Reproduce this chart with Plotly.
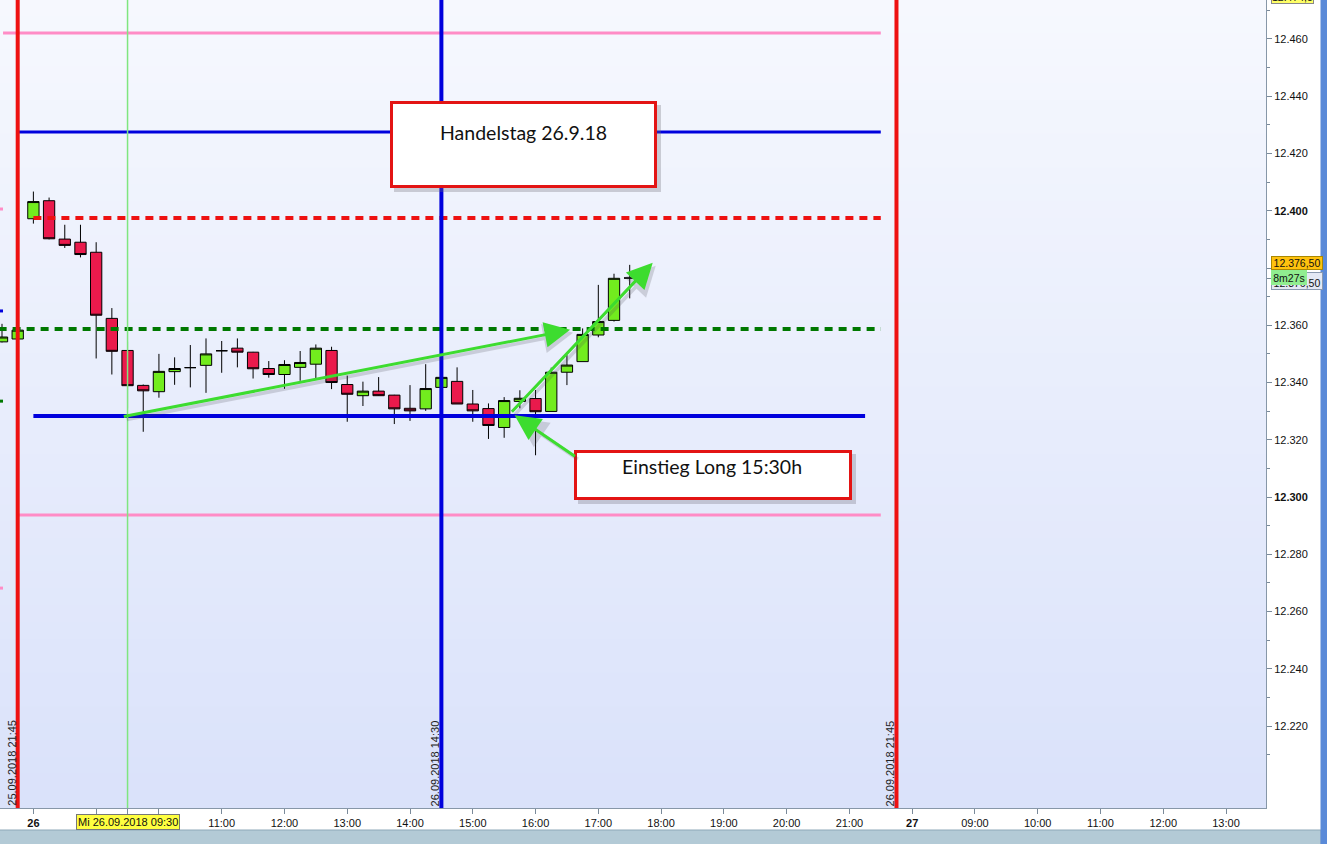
import pandas as pd
import plotly.graph_objects as go

# ---------------- data (15-min candles, DAX future) ----------------
times = [
    "2018-09-25 21:30", "2018-09-25 21:45",
    "2018-09-26 08:00", "2018-09-26 08:15", "2018-09-26 08:30", "2018-09-26 08:45",
    "2018-09-26 09:00", "2018-09-26 09:15", "2018-09-26 09:30", "2018-09-26 09:45",
    "2018-09-26 10:00", "2018-09-26 10:15", "2018-09-26 10:30", "2018-09-26 10:45",
    "2018-09-26 11:00", "2018-09-26 11:15", "2018-09-26 11:30", "2018-09-26 11:45",
    "2018-09-26 12:00", "2018-09-26 12:15", "2018-09-26 12:30", "2018-09-26 12:45",
    "2018-09-26 13:00", "2018-09-26 13:15", "2018-09-26 13:30", "2018-09-26 13:45",
    "2018-09-26 14:00", "2018-09-26 14:15", "2018-09-26 14:30", "2018-09-26 14:45",
    "2018-09-26 15:00", "2018-09-26 15:15", "2018-09-26 15:30", "2018-09-26 15:45",
    "2018-09-26 16:00", "2018-09-26 16:15", "2018-09-26 16:30", "2018-09-26 16:45",
    "2018-09-26 17:00", "2018-09-26 17:15", "2018-09-26 17:30",
]
opens = [
    12354.2, 12355.2,
    12397.2, 12403.5, 12390.1, 12389.0,
    12385.5, 12362.4, 12351.2, 12339.0,
    12336.8, 12343.8, 12345.2, 12346.0,
    12351.1, 12352.0, 12350.6, 12344.9,
    12342.8, 12345.3, 12346.4, 12351.2,
    12339.3, 12335.4, 12337.0, 12335.6,
    12331.0, 12330.8, 12338.3, 12340.4,
    12332.5, 12330.9, 12324.3, 12333.4,
    12334.4, 12329.9, 12343.6, 12347.3,
    12356.6, 12361.7, 12376.5,
]
highs = [
    12360.5, 12359.0,
    12406.7, 12404.6, 12395.1, 12395.1,
    12389.0, 12366.0, 12354.3, 12339.3,
    12350.0, 12348.8, 12353.1, 12355.4,
    12354.5, 12355.4, 12350.7, 12347.5,
    12347.8, 12351.0, 12353.3, 12352.5,
    12342.4, 12340.3, 12341.9, 12335.7,
    12339.1, 12346.4, 12342.5, 12345.3,
    12337.4, 12332.7, 12334.9, 12337.3,
    12337.4, 12345.2, 12349.6, 12358.9,
    12374.1, 12378.0, 12381.1,
]
lows = [
    12354.0, 12355.0,
    12395.5, 12390.0, 12387.0, 12383.7,
    12348.4, 12342.8, 12331.0, 12322.8,
    12334.7, 12339.2, 12338.3, 12336.4,
    12343.4, 12345.3, 12341.4, 12341.7,
    12337.8, 12340.6, 12341.1, 12337.7,
    12326.3, 12331.8, 12335.3, 12325.5,
    12326.6, 12330.1, 12337.5, 12332.5,
    12326.3, 12320.3, 12320.7, 12331.0,
    12314.6, 12329.9, 12339.1, 12347.3,
    12355.8, 12361.3, 12369.4,
]
closes = [
    12355.9, 12358.3,
    12403.2, 12390.2, 12387.9, 12384.7,
    12363.5, 12350.9, 12338.9, 12337.1,
    12343.9, 12344.9, 12345.2, 12350.0,
    12351.1, 12350.6, 12344.8, 12342.8,
    12346.3, 12347.0, 12352.0, 12340.0,
    12335.9, 12337.0, 12335.4, 12330.8,
    12330.1, 12337.9, 12341.8, 12332.5,
    12330.1, 12325.0, 12333.7, 12334.5,
    12329.8, 12343.6, 12346.1, 12356.8,
    12361.3, 12376.4, 12376.5,
]

# drawn horizontal price levels
level_prices = [12462.1, 12427.5, 12397.5, 12358.7, 12328.3, 12293.7]
level_starts = ["2018-09-25 21:31", "2018-09-25 21:45", "2018-09-26 08:00",
                "2018-09-25 21:00", "2018-09-26 08:00", "2018-09-25 21:45"]
level_ends = ["2018-09-26 21:30", "2018-09-26 21:30", "2018-09-26 21:30",
              "2018-09-26 21:30", "2018-09-26 21:15", "2018-09-26 21:30"]
level_colors = ["#ff8cc6", "#0000dd", "#ee1111", "#007800", "#0000dd", "#ff8cc6"]
level_widths = [3, 3, 4, 4, 4, 3]
level_dashes = ["solid", "solid", "8px,6px", "8px,6px", "solid", "solid"]

# small markers of previous-day levels at the left edge
edge_prices = [12400.6, 12365.0, 12333.5, 12268.2]
edge_colors = ["#ff8cc6", "#0000dd", "#007800", "#ff8cc6"]

# vertical time markers
vline_times = ["2018-09-25 21:45", "2018-09-26 09:30", "2018-09-26 14:30", "2018-09-26 21:45"]
vline_colors = ["#ee1111", "#7fe67f", "#0000dd", "#ee1111"]
vline_widths = [4, 1.5, 4, 4]
vline_labels = ["25.09.2018 21:45", "", "26.09.2018 14:30", "26.09.2018 21:45"]

# arrows: tip and tail
arrow_tips_t = ["2018-09-26 16:33", "2018-09-26 15:40", "2018-09-26 17:52"]
arrow_tips_p = [12358.4, 12328.6, 12381.8]
arrow_tails_t = ["2018-09-26 09:25", "2018-09-26 16:39", "2018-09-26 15:36"]
arrow_tails_p = [12328.0, 12313.9, 12329.3]

# axis ticks
x_tick_times = ["2018-09-26 08:00", "2018-09-26 09:00", "2018-09-26 09:30", "2018-09-26 10:00",
                "2018-09-26 11:00", "2018-09-26 12:00", "2018-09-26 13:00", "2018-09-26 14:00",
                "2018-09-26 15:00", "2018-09-26 16:00", "2018-09-26 17:00", "2018-09-26 18:00",
                "2018-09-26 19:00", "2018-09-26 20:00", "2018-09-26 21:00", "2018-09-27 08:00",
                "2018-09-27 09:00", "2018-09-27 10:00", "2018-09-27 11:00", "2018-09-27 12:00",
                "2018-09-27 13:00"]
x_tick_text = ["<b>26</b>", "", "", "", "11:00", "12:00", "13:00", "14:00", "15:00", "16:00",
               "17:00", "18:00", "19:00", "20:00", "21:00", "<b>27</b>", "09:00", "10:00",
               "11:00", "12:00", "13:00"]
y_tick_vals = [12220, 12240, 12260, 12280, 12300, 12320, 12340, 12360, 12376.5,
               12380, 12400, 12420, 12440, 12460]
y_tick_text = ["12.220", "12.240", "12.260", "12.280", "<b>12.300</b>", "12.320", "12.340",
               "12.360", "", "", "<b>12.400</b>", "12.420", "12.440", "12.460"]
y_minor_vals = [12210, 12230, 12250, 12270, 12290, 12310, 12330, 12350, 12370, 12390,
                12410, 12430, 12450, 12470]

x_range = ["2018-09-25 21:28:05", "2018-09-27 13:38:13"]
y_range = [12191.4, 12473.6]

last_price = "12.376,50"
timer_text = "8m27s"

# ---------------- figure ----------------
W, H = 1327, 844
ML, MR, MT, MB = 0, 61, 0, 36
PW, PH = W - ML - MR, H - MT - MB
PX_PER_HOUR = 62.77
PX_PER_POINT = PH / (y_range[1] - y_range[0])


def px(xp):
    return xp / PW


def py(yp):
    return 1 - yp / PH


fig = go.Figure()
fig.add_trace(go.Candlestick(
    x=times, open=opens, high=highs, low=lows, close=closes,
    increasing=dict(fillcolor="#72ec1e", line=dict(color="black", width=1)),
    decreasing=dict(fillcolor="#ea1a4c", line=dict(color="black", width=1)),
    whiskerwidth=0, showlegend=False, hoverinfo="skip",
))

shapes = []
# background gradient
n_bands = 48
top_rgb = (246, 248, 254)
bot_rgb = (218, 226, 250)
for i in range(n_bands):
    f = i / (n_bands - 1)
    c = tuple(round(top_rgb[k] + (bot_rgb[k] - top_rgb[k]) * f) for k in range(3))
    shapes.append(dict(type="rect", xref="paper", yref="paper", x0=0, x1=1,
                       y0=1 - (i + 1) / n_bands, y1=1 - i / n_bands + 0.001,
                       fillcolor="rgb(%d,%d,%d)" % c, line=dict(width=0), layer="below"))

for p, s, e, c, w, d in zip(level_prices, level_starts, level_ends, level_colors,
                            level_widths, level_dashes):
    shapes.append(dict(type="line", xref="x", yref="y", x0=s, x1=e, y0=p, y1=p,
                       line=dict(color=c, width=w, dash=d), layer="above"))

for p, c in zip(edge_prices, edge_colors):
    shapes.append(dict(type="line", xref="paper", yref="y", x0=0, x1=px(3), y0=p, y1=p,
                       line=dict(color=c, width=3), layer="above"))

for t, c, w in zip(vline_times, vline_colors, vline_widths):
    shapes.append(dict(type="line", xref="x", yref="paper", x0=t, x1=t, y0=0, y1=1,
                       line=dict(color=c, width=w), layer="above"))

# text boxes (shadow + frame)
boxes = [(390, 101, 657, 188), (574, 450, 852, 500)]
for (x0, y0, x1, y1) in boxes:
    shapes.append(dict(type="rect", xref="paper", yref="paper",
                       x0=px(x0 + 4), x1=px(x1 + 4), y0=py(y1 + 4), y1=py(y0 + 4),
                       fillcolor="rgba(110,110,120,0.30)", line=dict(width=0), layer="above"))
    shapes.append(dict(type="rect", xref="paper", yref="paper",
                       x0=px(x0 + 1.5), x1=px(x1 - 1.5), y0=py(y1 - 1.5), y1=py(y0 + 1.5),
                       fillcolor="white", line=dict(color="#e31414", width=3), layer="above"))

# window chrome: bottom bar and right border
shapes.append(dict(type="rect", xref="paper", yref="paper", x0=-0.01, x1=px(1321),
                   y0=py(850), y1=py(830), fillcolor="#b3cad6",
                   line=dict(color="#8ea8b8", width=1), layer="above"))
shapes.append(dict(type="rect", xref="paper", yref="paper", x0=px(1321), x1=px(1327),
                   y0=py(844), y1=py(0), fillcolor="#5a8ad8",
                   line=dict(color="#5a8ad8", width=1), layer="above"))

annotations = []
for t, lab in zip(vline_times, vline_labels):
    if lab:
        annotations.append(dict(x=t, y=0, xref="x", yref="paper", text=lab, textangle=-90,
                                showarrow=False, xanchor="center", yanchor="bottom", xshift=-6,
                                font=dict(family="Liberation Sans", size=11, color="#222")))

# arrow shadows (offset a few pixels down-right), then arrows
shift_t = pd.Timedelta(hours=3 / PX_PER_HOUR)
shift_p = 3 / PX_PER_POINT
for tt, tp, at, ap in zip(arrow_tips_t, arrow_tips_p, arrow_tails_t, arrow_tails_p):
    annotations.append(dict(x=pd.Timestamp(tt) + shift_t, y=tp - shift_p,
                            ax=pd.Timestamp(at) + shift_t, ay=ap - shift_p,
                            xref="x", yref="y", axref="x", ayref="y",
                            text="", showarrow=True, arrowhead=2, arrowsize=1.7, arrowwidth=3.5,
                            arrowcolor="rgba(70,70,80,0.2)", standoff=0))
for tt, tp, at, ap in zip(arrow_tips_t, arrow_tips_p, arrow_tails_t, arrow_tails_p):
    annotations.append(dict(x=tt, y=tp, ax=at, ay=ap, xref="x", yref="y", axref="x", ayref="y",
                            text="", showarrow=True, arrowhead=2, arrowsize=1.7, arrowwidth=3,
                            arrowcolor="#3ddc2f", standoff=0))

annotations.append(dict(x=px(523), y=py(119), xref="paper", yref="paper",
                        text="Handelstag 26.9.18", showarrow=False,
                        font=dict(family="Lato", size=19.5, color="#111")))
annotations.append(dict(x=px(712), y=py(467), xref="paper", yref="paper",
                        text="Einstieg Long 15:30h", showarrow=False,
                        font=dict(family="Lato", size=19.5, color="#111")))

# crosshair time label
annotations.append(dict(x="2018-09-26 09:30", y=py(821.5), xref="x", yref="paper",
                        text="Mi 26.09.2018 09:30", showarrow=False, xanchor="center",
                        yanchor="middle", bgcolor="#ffff40", bordercolor="#777", borderwidth=1,
                        borderpad=1, font=dict(family="Liberation Sans", size=11, color="#111")))

# price-scale labels
annotations.append(dict(x=px(1271), y=py(4), xref="paper", yref="paper", text="12.474,5",
                        showarrow=False, xanchor="left", yanchor="bottom", bgcolor="#ffff66",
                        bordercolor="#888", borderwidth=1, borderpad=0,
                        font=dict(family="Liberation Sans", size=10.5, color="#111")))
annotations.append(dict(x=px(1271), y=py(281), xref="paper", yref="paper", text=last_price,
                        showarrow=False, xanchor="left", yanchor="middle", width=50, height=16,
                        valign="bottom", bgcolor="#e3e8f4", bordercolor="#8a9ab0", borderwidth=1,
                        borderpad=0, font=dict(family="Liberation Sans", size=10.5, color="#111")))
annotations.append(dict(x=px(1271), y=py(277.5), xref="paper", yref="paper", text=timer_text,
                        showarrow=False, xanchor="left", yanchor="middle", width=34, height=13,
                        bgcolor="#90ee90", bordercolor="#90ee90", borderwidth=1, borderpad=0,
                        font=dict(family="Liberation Sans", size=10.5, color="#111")))
annotations.append(dict(x=px(1271), y=py(262.5), xref="paper", yref="paper", text=last_price,
                        showarrow=False, xanchor="left", yanchor="middle", width=50, height=12,
                        bgcolor="#ffc20e", bordercolor="#aa8800", borderwidth=1, borderpad=0,
                        font=dict(family="Liberation Sans", size=10.5, color="#111")))

fig.update_layout(
    width=W, height=H, margin=dict(l=ML, r=MR, t=MT, b=MB),
    paper_bgcolor="white", plot_bgcolor="#e8eefc", separators=",.",
    showlegend=False, hovermode=False, boxgap=0.28, boxgroupgap=0,
    shapes=shapes, annotations=annotations,
    xaxis=dict(type="date", range=x_range,
               rangebreaks=[dict(bounds=[22, 8], pattern="hour")],
               rangeslider=dict(visible=False), tickmode="array",
               tickvals=x_tick_times, ticktext=x_tick_text, ticks="outside", ticklen=5,
               tickcolor="#7a8a9a", showline=True, linecolor="#8797a8", linewidth=1,
               showgrid=False, zeroline=False, fixedrange=True,
               tickfont=dict(family="Liberation Sans", size=11, color="#111")),
    yaxis=dict(side="right", range=y_range, tickmode="array", tickvals=y_tick_vals,
               ticktext=y_tick_text, ticks="outside", ticklen=5, tickcolor="#7a8a9a",
               showline=True, linecolor="#8797a8", linewidth=1, showgrid=False,
               zeroline=False, fixedrange=True,
               tickfont=dict(family="Liberation Sans", size=11, color="#111"),
               minor=dict(tickvals=y_minor_vals, ticks="outside", ticklen=3,
                          tickcolor="#7a8a9a", showgrid=False)),
)

fig.write_html("out.html", config={"displayModeBar": False},
               post_script="document.body.style.margin='0';")
